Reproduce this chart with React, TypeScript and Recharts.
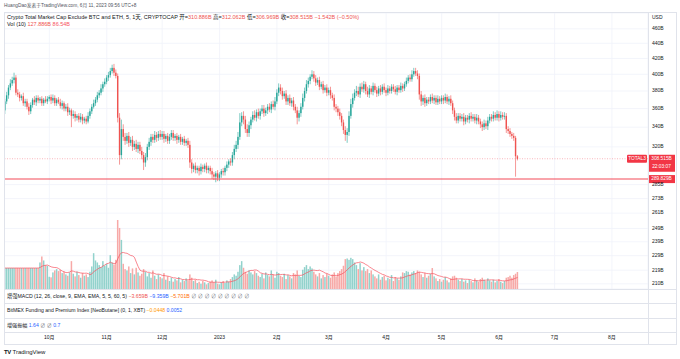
import React from "react";
import {
  ComposedChart,
  Bar,
  Line,
  XAxis,
  YAxis,
  CartesianGrid,
  ReferenceLine,
} from "recharts";

// daily closes (B USD), 2022-09-07 .. 2023-06-11
const firstOpen = 358;
const closes = [
  368, 375, 384, 389, 393, 396, 378, 376, 372, 374,
  366, 368, 362, 357, 364, 370, 367, 372, 369, 371,
  366, 370, 368, 371, 373, 369, 372, 366, 370, 367,
  363, 366, 360, 362, 356, 358, 352, 354, 350, 352,
  348, 351, 347, 349, 346, 352, 357, 362, 366, 370,
  375, 378, 383, 388, 391, 396, 399, 404, 408, 402,
  398, 350, 312, 338, 330, 326, 331, 324, 327, 320,
  323, 318, 322, 316, 312, 305, 310, 320, 325, 330,
  327, 332, 329, 333, 330, 333, 328, 331, 326, 330,
  334, 329, 331, 327, 330, 325, 328, 324, 326, 322,
  305, 299, 302, 298, 300, 297, 301, 299, 302, 298,
  300, 297, 294, 292, 295, 291, 294, 297, 296, 300,
  303, 306, 305, 312, 318, 322, 330, 345, 352, 348,
  338, 334, 342, 348, 353, 350, 356, 352, 357, 360,
  355, 358, 362, 359, 365, 362, 368, 378, 384, 380,
  374, 377, 368, 372, 366, 369, 362, 358, 350, 355,
  362, 372, 380, 388, 392, 397, 400, 395, 390, 393,
  385, 388, 381, 384, 378, 381, 375, 372, 362, 360,
  356, 352, 345, 337, 332, 335, 352, 365, 372, 378,
  380, 376, 385, 382, 388, 380, 376, 383, 379, 386,
  381, 377, 383, 379, 385, 381, 378, 383, 380, 385,
  382, 379, 384, 381, 386, 383, 388, 392, 396, 394,
  400, 404, 401, 398, 376, 368, 372, 366, 370, 368,
  373, 369, 372, 367, 371, 368, 372, 369, 373, 368,
  371, 366, 358, 351, 347, 352, 349, 351, 346, 350,
  348, 352, 349, 351, 347, 350, 346, 343, 340, 344,
  341, 347, 351, 349, 353, 350, 354, 350, 353, 351,
  352, 338, 336, 333, 331, 329, 310.886, 308.515,
];

// wick lengths above the body / below the body
const upWick = [
  3, 4, 3, 5, 4, 6, 3, 4, 3, 2,
  4, 3, 3, 4, 3, 2, 4, 3, 3, 2,
  3, 2, 4, 3, 2, 3, 4, 3, 2, 3,
  4, 3, 2, 3, 4, 3, 2, 4, 3, 2,
  3, 4, 3, 2, 3, 4, 3, 3, 4, 3,
  4, 3, 5, 3, 4, 3, 4, 4, 4, 5,
  4, 3, 5, 10, 5, 4, 3, 4, 3, 4,
  3, 4, 3, 3, 4, 3, 4, 3, 4, 3,
  3, 4, 3, 3, 4, 3, 3, 2, 3, 3,
  3, 3, 2, 3, 2, 3, 2, 3, 2, 3,
  4, 3, 2, 3, 2, 2, 3, 2, 2, 3,
  2, 2, 3, 2, 2, 3, 2, 2, 3, 2,
  3, 2, 3, 3, 4, 4, 5, 10, 4, 5,
  4, 5, 4, 3, 4, 5, 3, 4, 3, 4,
  4, 3, 3, 4, 3, 4, 5, 4, 5, 4,
  4, 3, 4, 3, 4, 3, 4, 3, 4, 3,
  4, 5, 4, 5, 4, 3, 5, 4, 4, 3,
  4, 3, 4, 3, 4, 3, 4, 3, 4, 3,
  3, 4, 3, 3, 4, 4, 5, 6, 5, 4,
  6, 5, 4, 5, 4, 3, 5, 4, 3, 4,
  3, 4, 3, 4, 3, 4, 3, 4, 3, 3,
  3, 4, 3, 3, 4, 3, 3, 4, 3, 4,
  5, 4, 4, 4, 3, 4, 3, 4, 3, 3,
  3, 4, 3, 3, 4, 3, 3, 3, 4, 3,
  3, 4, 3, 3, 4, 3, 3, 3, 4, 3,
  3, 3, 4, 3, 3, 4, 3, 3, 3, 4,
  3, 4, 3, 3, 4, 3, 4, 3, 4, 3,
  4, 3, 3, 3, 2, 3, 2, 1.176,
];
const downWick = [
  4, 3, 4, 3, 3, 4, 3, 3, 4, 3,
  3, 4, 3, 4, 3, 3, 3, 4, 3, 3,
  3, 3, 2, 3, 3, 4, 3, 3, 3, 2,
  3, 4, 3, 3, 4, 3, 12, 3, 4, 3,
  3, 3, 4, 3, 3, 2, 3, 3, 2, 3,
  3, 3, 3, 4, 3, 3, 4, 3, 3, 4,
  3, 5, 9, 4, 4, 4, 3, 4, 3, 4,
  3, 3, 4, 3, 4, 7, 4, 3, 3, 4,
  3, 3, 4, 3, 3, 3, 4, 3, 3, 3,
  3, 3, 3, 4, 3, 3, 3, 3, 3, 3,
  5, 4, 3, 3, 3, 4, 3, 3, 3, 3,
  3, 3, 4, 3, 5, 3, 3, 3, 3, 3,
  3, 3, 3, 3, 4, 3, 4, 3, 4, 5,
  4, 4, 4, 4, 3, 3, 4, 3, 4, 3,
  4, 3, 4, 3, 4, 3, 4, 3, 4, 4,
  4, 3, 4, 4, 3, 4, 4, 3, 7, 4,
  4, 3, 4, 3, 4, 4, 3, 4, 4, 3,
  4, 3, 4, 3, 4, 3, 4, 3, 4, 4,
  4, 4, 4, 4, 6, 8, 4, 3, 4, 3,
  4, 3, 4, 3, 4, 4, 3, 4, 3, 4,
  3, 4, 3, 4, 3, 3, 4, 3, 3, 3,
  3, 3, 4, 3, 3, 4, 3, 3, 3, 3,
  3, 3, 3, 4, 6, 5, 4, 4, 3, 3,
  3, 3, 4, 3, 3, 3, 3, 4, 3, 3,
  4, 3, 4, 4, 3, 3, 3, 3, 4, 3,
  3, 4, 3, 3, 3, 4, 3, 4, 4, 3,
  3, 4, 3, 3, 3, 3, 3, 4, 3, 3,
  3, 4, 3, 3, 3, 3, 18.9, 1.546,
];

// daily volume (B USD)
const volumes = [
  158, 158, 158, 158, 158, 158, 158, 158, 158, 158,
  158, 158, 158, 158, 158, 158, 158, 158, 158, 200,
  245, 215, 180, 175, 92, 88, 125, 140, 150, 135,
  145, 120, 130, 110, 100, 125, 210, 115, 95, 130,
  105, 85, 120, 100, 110, 90, 130, 170, 270, 215,
  200, 180, 165, 210, 175, 190, 160, 255, 200, 185,
  220, 520, 460, 370, 190, 150, 140, 170, 120, 155,
  110, 160, 125, 100, 115, 150, 130, 95, 120, 85,
  140, 100, 75, 110, 90, 80, 120, 70, 95, 60,
  85, 55, 75, 65, 90, 50, 70, 60, 80, 65,
  110, 85, 60, 70, 45, 55, 40, 60, 50, 35,
  45, 55, 65, 50, 70, 40, 35, 50, 60, 45,
  65, 55, 75, 90, 110, 100, 130, 180, 210, 160,
  130, 115, 140, 125, 110, 135, 120, 100, 90, 115,
  80, 125, 105, 95, 140, 110, 85, 130, 120, 100,
  90, 115, 75, 105, 95, 80, 120, 110, 140, 100,
  90, 145, 165, 180, 150, 170, 155, 130, 110, 95,
  120, 80, 105, 90, 115, 100, 85, 110, 125, 95,
  120, 135, 150, 175, 225, 230, 220, 235, 225, 200,
  180, 150, 195, 140, 165, 135, 150, 120, 140, 110,
  95, 80, 110, 70, 90, 100, 65, 85, 75, 105,
  60, 90, 80, 70, 95, 125, 120, 135, 130, 110,
  125, 135, 120, 140, 130, 110, 90, 120, 85, 100,
  115, 158, 95, 80, 60, 75, 55, 70, 90, 65,
  50, 80, 95, 100, 85, 70, 60, 75, 55, 65,
  45, 70, 60, 50, 80, 65, 55, 75, 85, 70,
  60, 80, 65, 55, 70, 50, 60, 75, 55, 45,
  60, 85, 90, 100, 85, 105, 115, 127.886,
];

const monthTicks = [24, 55, 85, 116, 147, 175, 206, 236, 267, 297, 328];
const monthLabels = ["10月", "11月", "12月", "2023", "2月", "3月", "4月", "5月", "6月", "7月", "8月"];
const priceTicks = [210, 219, 229, 239, 249, 261, 273, 285, 320, 340, 360, 380, 400, 420, 440, 460];
const lastPrice = 308.515;
const drawnLevel = 289.829;

const UP = "#26a69a";
const DOWN = "#ef5350";
const VOL_UP = "#92d2cc";
const VOL_DOWN = "#f7a9a7";
const FONT = '"Liberation Sans", Arial, "Noto Sans CJK SC", sans-serif';

const rows = closes.map((c, i) => {
  const o = i === 0 ? firstOpen : closes[i - 1];
  const high = Math.max(o, c) + upWick[i];
  const low = Math.min(o, c) - downWick[i];
  const from = Math.max(0, i - 9);
  const win = volumes.slice(from, i + 1);
  return {
    i,
    open: o,
    close: c,
    high,
    low,
    range: [low, high],
    vol: volumes[i],
    ma: win.reduce((a, b) => a + b, 0) / win.length,
  };
});

const Candle = (props: any) => {
  const { x, y, width, height, payload } = props;
  if (x == null || payload == null) return null;
  const top = Math.min(y, y + height);
  const h = Math.abs(height);
  const lh = Math.log(payload.high);
  const ll = Math.log(payload.low);
  const toY = (v: number) => top + (h * (lh - Math.log(v))) / (lh - ll || 1);
  const yo = toY(payload.open);
  const yc = toY(payload.close);
  const color = payload.close >= payload.open ? UP : DOWN;
  const cx = x + width / 2;
  return (
    <g>
      <line x1={cx} x2={cx} y1={top} y2={top + h} stroke={color} strokeWidth={0.6} />
      <rect x={cx - 0.7} y={Math.min(yo, yc)} width={1.4} height={Math.max(Math.abs(yc - yo), 0.6)} fill={color} />
    </g>
  );
};

const VolBar = (props: any) => {
  const { x, y, width, height, payload } = props;
  if (x == null || payload == null) return null;
  const cx = x + width / 2;
  return (
    <rect
      x={cx - 0.75}
      y={Math.min(y, y + height)}
      width={1.5}
      height={Math.abs(height)}
      fill={payload.close >= payload.open ? VOL_UP : VOL_DOWN}
    />
  );
};

const MonthTick = (props: any) => {
  const { x, y, payload } = props;
  const idx = monthTicks.indexOf(payload.value);
  return (
    <text x={x} y={y + 49} textAnchor="middle" dominantBaseline="middle" fontSize={5} fill="#131722" fontFamily={FONT}>
      {monthLabels[idx]}
    </text>
  );
};

const PriceTick = (props: any) => {
  const { x, y, payload } = props;
  return (
    <text x={x + 4} y={y} dominantBaseline="middle" fontSize={5} fill="#131722" fontFamily={FONT}>
      {payload.value}B
    </text>
  );
};

const LastPriceLabel = (props: any) => {
  const vb = props.viewBox;
  if (!vb) return null;
  const right = vb.x + vb.width;
  return (
    <g fontFamily={FONT} fontSize={4.8} fill="#fff">
      <rect x={right - 21} y={vb.y - 4} width={20} height={8} fill="#f23645" rx={1} />
      <text x={right - 11} y={vb.y} textAnchor="middle" dominantBaseline="middle">TOTAL3</text>
      <rect x={right} y={vb.y - 4} width={27} height={17} fill="#f23645" />
      <text x={right + 13.5} y={vb.y} textAnchor="middle" dominantBaseline="middle">308.515B</text>
      <text x={right + 13.5} y={vb.y + 8} textAnchor="middle" dominantBaseline="middle">22:03:07</text>
    </g>
  );
};

const LevelLabel = (props: any) => {
  const vb = props.viewBox;
  if (!vb) return null;
  const right = vb.x + vb.width;
  return (
    <g fontFamily={FONT} fontSize={4.8} fill="#fff">
      <rect x={right} y={vb.y - 4} width={27} height={8} fill="#f23645" />
      <text x={right + 13.5} y={vb.y} textAnchor="middle" dominantBaseline="middle">289.829B</text>
    </g>
  );
};

const hLine = (top: number) => (
  <div style={{ position: "absolute", left: 4, top, width: 672, height: 1, background: "#e0e3eb" }} />
);

export default function App() {
  const t = { position: "absolute" as const, whiteSpace: "nowrap" as const, lineHeight: "6px" };
  return (
    <div
      style={{
        position: "fixed",
        left: 0,
        top: 0,
        width: 680,
        height: 359,
        background: "#fff",
        overflow: "hidden",
        fontFamily: FONT,
        color: "#131722",
      }}
    >
      <div style={{ ...t, left: 4, top: 3, fontSize: 4.75, color: "#50535e" }}>
        HuangDao发表于TradingView.com, 6月 11, 2023 09:56 UTC+8
      </div>

      <div style={{ position: "absolute", left: 4, top: 13 }}>
        <ComposedChart width={672} height={331} data={rows} margin={{ top: 0, right: 0, bottom: 0, left: 0 }}>
          <CartesianGrid xAxisId="c" yAxisId="p" stroke="#f0f3fa" strokeWidth={0.8} />
          <XAxis
            xAxisId="c"
            dataKey="i"
            type="number"
            domain={[-0.5, 347.5]}
            allowDataOverflow
            ticks={monthTicks}
            interval={0}
            height={55}
            axisLine={false}
            tickLine={false}
            tickSize={0}
            tickMargin={0}
            tick={<MonthTick />}
          />
          <XAxis xAxisId="v" dataKey="i" type="number" domain={[-0.5, 347.5]} allowDataOverflow hide />
          <YAxis
            yAxisId="p"
            orientation="right"
            type="number"
            scale="log"
            domain={[206.7, 483]}
            allowDataOverflow
            ticks={priceTicks}
            interval={0}
            width={28}
            axisLine={false}
            tickLine={false}
            tickSize={0}
            tickMargin={0}
            tick={<PriceTick />}
          />
          <YAxis yAxisId="v" type="number" domain={[0, 2080]} hide />

          <Bar xAxisId="v" yAxisId="v" dataKey="vol" barSize={1.6} shape={<VolBar />} isAnimationActive={false} />
          <Line
            xAxisId="v"
            yAxisId="v"
            dataKey="ma"
            stroke="#f7525f"
            strokeWidth={0.7}
            dot={false}
            isAnimationActive={false}
          />
          <ReferenceLine
            xAxisId="c"
            yAxisId="p"
            y={drawnLevel}
            stroke="#f23645"
            strokeOpacity={0.45}
            strokeWidth={2}
            label={<LevelLabel />}
          />
          <ReferenceLine
            xAxisId="c"
            yAxisId="p"
            y={lastPrice}
            stroke="#f23645"
            strokeOpacity={0.6}
            strokeWidth={0.6}
            strokeDasharray="1 1.5"
            label={<LastPriceLabel />}
          />
          <Bar xAxisId="c" yAxisId="p" dataKey="range" barSize={1.6} shape={<Candle />} isAnimationActive={false} />
        </ComposedChart>
      </div>

      {/* frame and pane separators */}
      <div style={{ position: "absolute", left: 4, top: 12, width: 671, height: 331, border: "1px solid #e0e3eb", pointerEvents: "none" }} />
      <div style={{ position: "absolute", left: 648, top: 12, width: 1, height: 332, background: "#e0e3eb" }} />
      {hLine(289)}
      {hLine(303)}
      {hLine(318)}
      {hLine(332)}

      <div style={{ ...t, left: 7, top: 14, fontSize: 5.5 }}>
        Crypto Total Market Cap Exclude BTC and ETH, 5, 1天, CRYPTOCAP{" "}
        开=<span style={{ color: DOWN }}>310.886B</span> 高=<span style={{ color: DOWN }}>312.062B</span>{" "}
        低=<span style={{ color: DOWN }}>306.969B</span> 收=<span style={{ color: DOWN }}>308.515B</span>{" "}
        <span style={{ color: DOWN }}>−1.542B (−0.50%)</span>
      </div>
      <div style={{ ...t, left: 7, top: 21, fontSize: 5.5 }}>
        Vol (10) <span style={{ color: DOWN }}>127.886B</span> <span style={{ color: "#f7525f" }}>86.54B</span>
      </div>
      <div style={{ ...t, left: 652, top: 14, fontSize: 5 }}>USD</div>

      <div style={{ ...t, left: 7, top: 293, fontSize: 5.2 }}>
        增强MACD (12, 26, close, 9, EMA, EMA, 5, 5, 60, 5){" "}
        <span style={{ color: DOWN }}>−3.659B</span> <span style={{ color: "#2962ff" }}>−9.359B</span>{" "}
        <span style={{ color: "#ff6d00" }}>−5.701B</span>{" "}
        <span style={{ color: "#787b86" }}>∅ ∅ ∅ ∅ ∅ ∅ ∅ ∅ ∅</span>
      </div>
      <div style={{ ...t, left: 7, top: 307, fontSize: 5.1 }}>
        BitMEX Funding and Premium Index [NeoButane] (0, 1, XBT){" "}
        <span style={{ color: "#ff9800" }}>−0.0448</span> <span style={{ color: "#2962ff" }}>0.0052</span>
      </div>
      <div style={{ ...t, left: 7, top: 322, fontSize: 5.1 }}>
        增强振幅 <span style={{ color: "#2962ff" }}>1.64</span> <span style={{ color: "#787b86" }}>∅ ∅</span>{" "}
        <span style={{ color: "#2962ff" }}>0.7</span>
      </div>

      <div style={{ ...t, left: 4, top: 349, fontSize: 6, fontWeight: 700, letterSpacing: -0.3 }}>
        TV <span style={{ fontWeight: 400, letterSpacing: 0 }}>TradingView</span>
      </div>
    </div>
  );
}
